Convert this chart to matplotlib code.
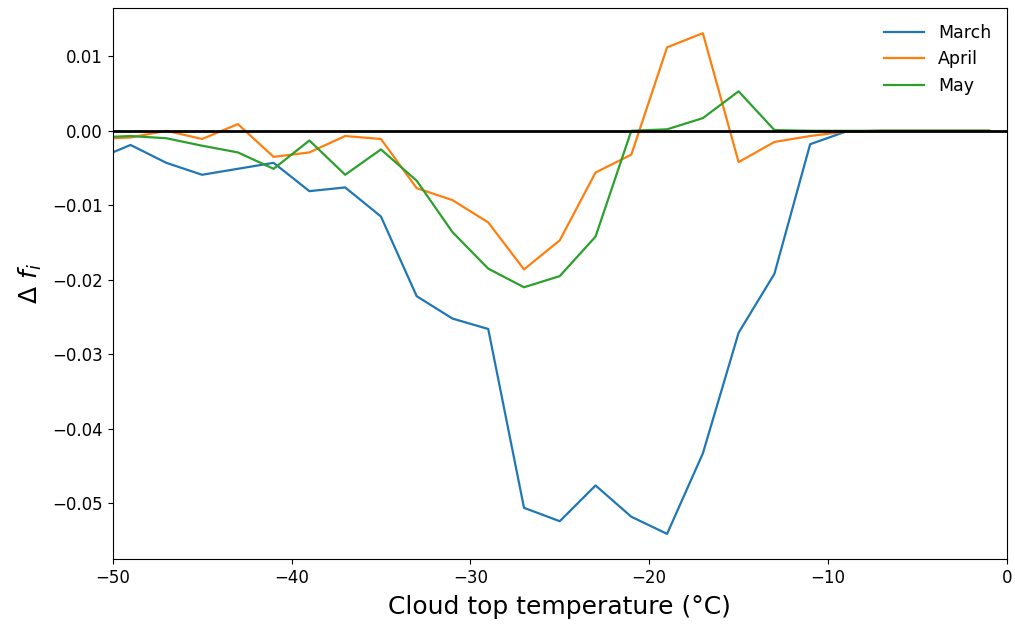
import numpy as np
import matplotlib.pyplot as plt

# Cloud top temperature bins (°C)
temps = np.arange(-51, 0, 2)

# Change in ice fraction per month
march = [-0.0039, -0.0019, -0.0043, -0.0059, -0.0051, -0.0043, -0.0081, -0.0076,
         -0.0115, -0.0222, -0.0252, -0.0266, -0.0506, -0.0524, -0.0476, -0.0518,
         -0.0541, -0.0433, -0.0271, -0.0192, -0.0018, -0.0001, 0.0, 0.0, 0.0, 0.0]
april = [-0.0011, -0.0009, 0.0000, -0.0011, 0.0009, -0.0035, -0.0029, -0.0007,
         -0.0011, -0.0077, -0.0093, -0.0123, -0.0186, -0.0147, -0.0056, -0.0032,
         0.0112, 0.0131, -0.0042, -0.0015, -0.0007, -0.0001, 0.0, 0.0, 0.0, 0.0]
may = [-0.0009, -0.0007, -0.0010, -0.0020, -0.0029, -0.0051, -0.0013, -0.0059,
       -0.0025, -0.0067, -0.0136, -0.0185, -0.0210, -0.0195, -0.0142, 0.0000,
       0.0002, 0.0017, 0.0053, 0.0001, 0.0, 0.0, 0.0, 0.0, 0.0, 0.0]

fig, ax = plt.subplots(figsize=(10.15, 6.28), dpi=100)
fig.subplots_adjust(left=0.111, right=0.992, top=0.987, bottom=0.11)

ax.plot(temps, march, label='March', lw=1.6)
ax.plot(temps, april, label='April', lw=1.6)
ax.plot(temps, may, label='May', lw=1.6)
ax.axhline(0, color='k', lw=2)

ax.set_xlim(-50, 0)
ax.set_xlabel('Cloud top temperature (°C)', fontsize=18, labelpad=6)
ax.set_ylabel(r'$\Delta\ f_i$', fontsize=18, labelpad=6)
ax.tick_params(labelsize=12)
ax.legend(frameon=False, fontsize=12.5, handlelength=2.3)

plt.savefig('out.png')
